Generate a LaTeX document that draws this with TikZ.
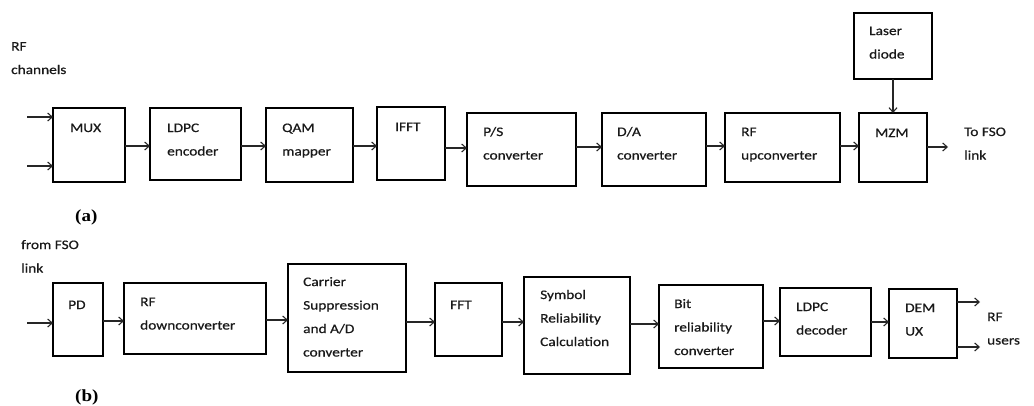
\documentclass[tikz,border=0pt]{standalone}
\usepackage{fontspec}
\setmainfont{Carlito}[FakeStretch=1.18,FakeBold=0.6]
\newfontfamily\capfont{Liberation Serif}[FakeStretch=1.12]
\usetikzlibrary{arrows.meta}
\newcommand\blk[5]{\node[box, minimum width={#4-#2}, minimum height={#5-#3}] (#1) at ({(#2+#4)/2},{(#3+#5)/2}) {};}
\begin{document}
\begin{tikzpicture}[x=1pt,y=-1pt,
  box/.style={draw=black, line width=1.3pt, inner sep=0pt, outer sep=0pt, fill=white},
  txt/.style={anchor=base west, inner sep=0pt, align=left, text=black!90, font=\fontsize{13}{23.5}\selectfont},
  captxt/.style={anchor=base west, inner sep=0pt, font=\capfont\bfseries\fontsize{17}{19}\selectfont},
  arr/.style={draw=black!85, line width=1.1pt, -{Straight Barb[length=4.5pt,width=8pt]}}]
\useasboundingbox[fill=white] (0,0) rectangle (1034,405);
% ---------- (a) ----------
\blk{MUX}{53}{108}{125}{182}
\blk{LDPCe}{150}{108}{241}{180}
\blk{QAM}{266}{108}{353}{182}
\blk{IFFT}{377}{107}{445}{180}
\blk{PS}{467}{113}{576}{186}
\blk{DA}{602}{113}{706}{186}
\blk{RFup}{725}{113}{840}{182}
\blk{MZM}{859}{113}{927}{182}
\blk{LD}{854}{13}{932}{79}
% base anchor = baseline of the last line
\node[txt] (tRFch) at (11,74) {RF\\channels};
\node[txt] (tMUX) at (70,132) {MUX};
\node[txt] (tLDPCe) at (167,155.5) {LDPC\\encoder};
\node[txt] (tQAM) at (282,155.5) {QAM\\mapper};
\node[txt] (tIFFT) at (395,131) {IFFT};
\node[txt] (tPS) at (483,159.5) {P/S\\converter};
\node[txt] (tDA) at (617,159.5) {D/A\\converter};
\node[txt] (tRFup) at (741,159.5) {RF\\upconverter};
\node[txt] (tMZM) at (875,137) {MZM};
\node[txt] (tLD) at (869,58.5) {Laser\\diode};
\node[txt] (tTo) at (964,159.5) {To FSO\\link};
\node[captxt] (capa) at (75,221) {(a)};
\coordinate (in1) at (27,117);
\coordinate (in2) at (27,166);
\coordinate (out1) at (948,147);
\draw[arr] (in1) -- (MUX.west |- in1);
\draw[arr] (in2) -- (MUX.west |- in2);
\draw[arr] (MUX.east |- 0,146) -- (LDPCe.west |- 0,146);
\draw[arr] (LDPCe.east |- 0,146) -- (QAM.west |- 0,146);
\draw[arr] (QAM.east |- 0,146) -- (IFFT.west |- 0,146);
\draw[arr] (IFFT.east |- 0,148) -- (PS.west |- 0,148);
\draw[arr] (PS.east |- 0,147) -- (DA.west |- 0,147);
\draw[arr] (DA.east |- 0,146) -- (RFup.west |- 0,146);
\draw[arr] (RFup.east |- 0,146) -- (MZM.west |- 0,146);
\draw[arr] (MZM.east |- out1) -- (out1);
\draw[arr] (LD.south -| 893,0) -- (MZM.north -| 893,0);
% ---------- (b) ----------
\blk{PD}{53}{283}{103}{356}
\blk{RFdn}{124}{283}{266}{354}
\blk{CS}{288}{264}{406}{372}
\blk{FFT}{435}{283}{502}{356}
\blk{SRC}{524}{277}{630}{374}
\blk{BRC}{659}{285}{763}{368}
\blk{LDPCd}{780}{288}{871}{356}
\blk{DMX}{889}{289}{957}{358}
\node[txt] (tFSO) at (21,272.5) {from FSO\\link};
\node[txt] (tPD) at (68,309) {PD};
\node[txt] (tRFdn) at (140,329.5) {RF\\downconverter};
\node[txt] (tCS) at (303,356.5) {Carrier\\Suppression\\and A/D\\converter};
\node[txt] (tFFT) at (450,309) {FFT};
\node[txt] (tSRC) at (540,346) {Symbol\\Reliability\\Calculation};
\node[txt] (tBRC) at (674,355) {Bit\\reliability\\converter};
\node[txt] (tLDPCd) at (796,334.5) {LDPC\\decoder};
\node[txt] (tDMX) at (905,335.5) {DEM\\UX};
\node[txt] (tRFus) at (987,344.5) {RF\\users};
\node[captxt] (capb) at (75,401) {(b)};
\coordinate (inb) at (27,323);
\coordinate (o1) at (980,302);
\coordinate (o2) at (980,347);
\draw[arr] (inb) -- (PD.west |- inb);
\draw[arr] (PD.east |- 0,321) -- (RFdn.west |- 0,321);
\draw[arr] (RFdn.east |- 0,320) -- (CS.west |- 0,320);
\draw[arr] (CS.east |- 0,322) -- (FFT.west |- 0,322);
\draw[arr] (FFT.east |- 0,322) -- (SRC.west |- 0,322);
\draw[arr] (SRC.east |- 0,324) -- (BRC.west |- 0,324);
\draw[arr] (BRC.east |- 0,321) -- (LDPCd.west |- 0,321);
\draw[arr] (LDPCd.east |- 0,322) -- (DMX.west |- 0,322);
\draw[arr] (DMX.east |- o1) -- (o1);
\draw[arr] (DMX.east |- o2) -- (o2);
\end{tikzpicture}
\end{document}
